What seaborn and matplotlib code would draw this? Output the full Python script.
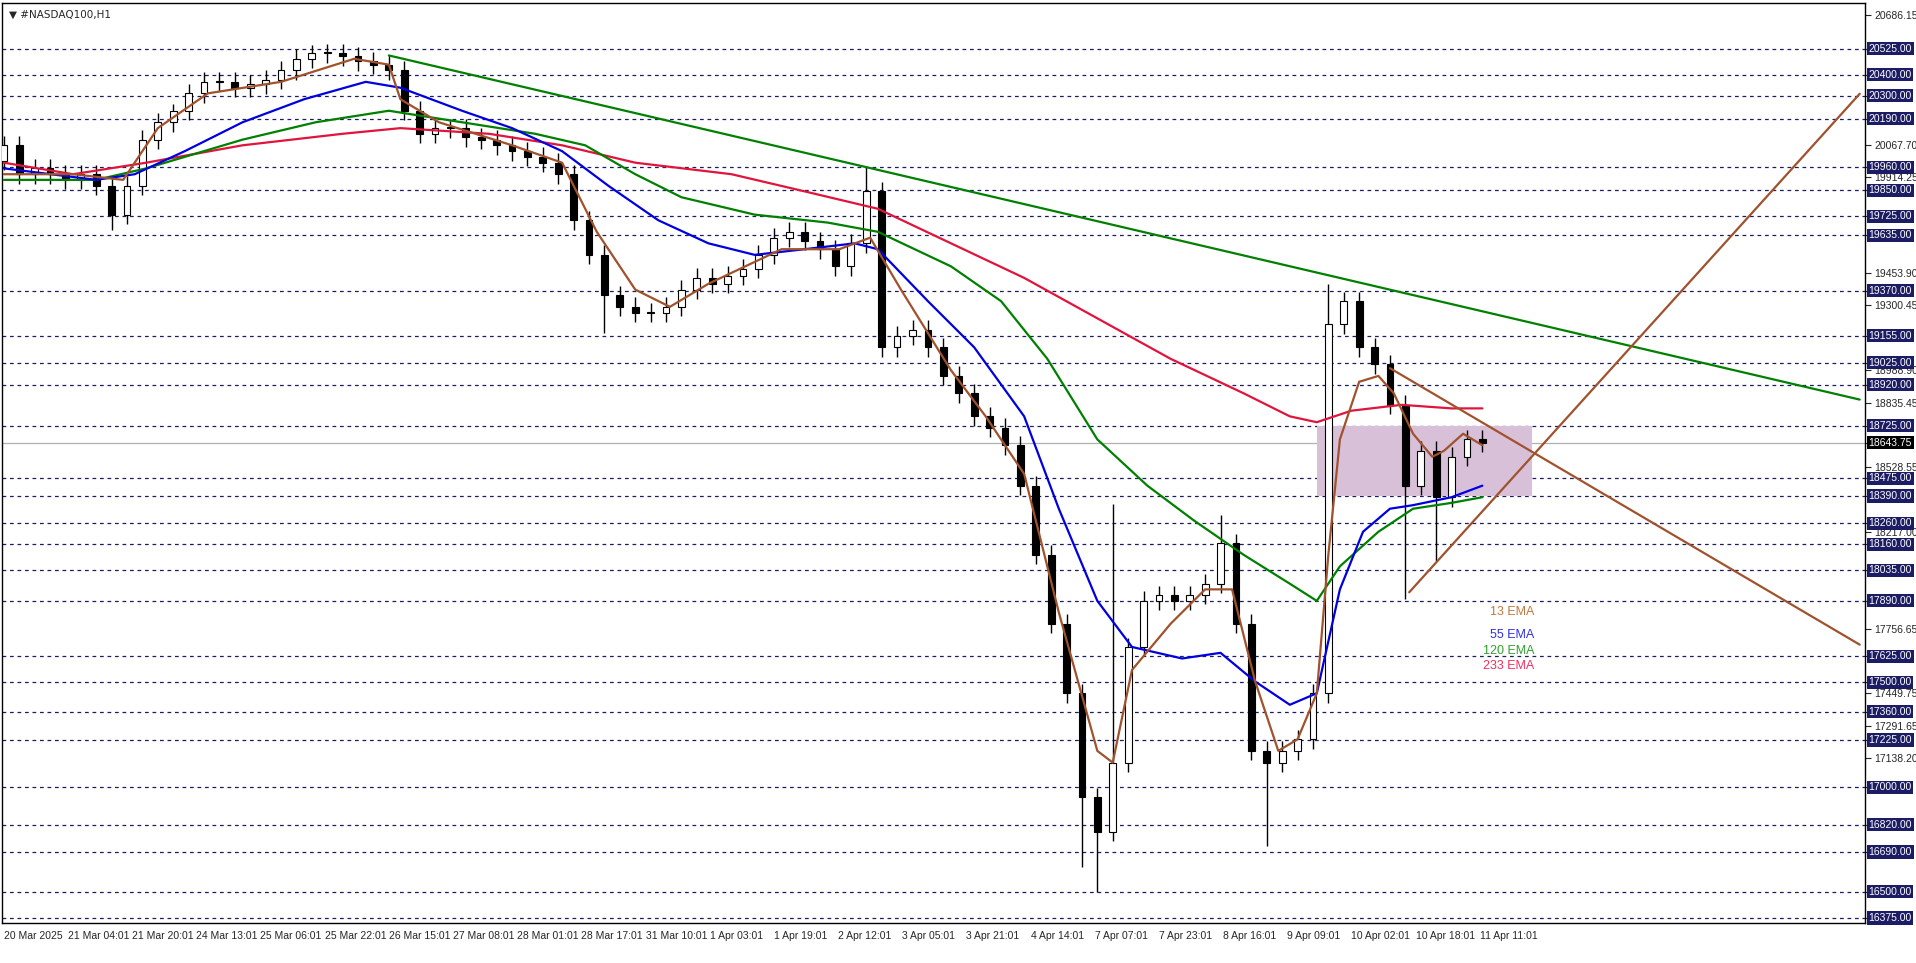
import numpy as np
import pandas as pd
import matplotlib
matplotlib.use("Agg")
import matplotlib.pyplot as plt
import seaborn as sns

sns.set_style("white")
plt.rcParams['font.family'] = ['Liberation Sans', 'DejaVu Sans']

# ---- data ----
closes = [20064, 19926, 19954, 19926, 19899, 19926, 19871, 19733, 19871, 20091,
          20174, 20229, 20312, 20367, 20367, 20339, 20356, 20378, 20422, 20477,
          20504, 20504, 20488, 20466, 20449, 20422, 20229, 20119, 20146, 20146,
          20102, 20091, 20064, 20036, 20009, 19981, 19926, 19706, 19541, 19348,
          19293, 19265, 19265, 19293, 19375, 19431, 19403, 19442, 19475, 19541,
          19623, 19651, 19607, 19568, 19486, 19596, 19844, 19100, 19155, 19183,
          19100, 18963, 18880, 18770, 18715, 18632, 18439, 18109, 17779, 17448,
          16953, 16788, 17117, 17669, 17889, 17917, 17889, 17917, 17971, 18164,
          17779, 17173, 17117, 17173, 17228, 17448, 19210, 19320, 19100, 19018,
          18825, 18439, 18605, 18384, 18577, 18660, 18644]
first_open = 19990
bar_step = 4.08
wick = 45
extreme_highs = {56: 19960, 72: 18350, 86: 19400, 79: 18300, 11: 20260, 20: 20545}
extreme_lows = {7: 19660, 71: 16500, 70: 16620, 82: 16720, 91: 17900, 93: 18080, 69: 17400, 39: 19170}

ema_scale = 1.02
ema13_h = [0, 18, 31, 40, 53, 72, 91, 100, 103, 113, 132, 145, 154, 164, 173, 183, 202, 217, 225, 233, 246, 255, 265, 274, 284, 288, 293, 303, 312, 319, 325, 331, 336, 341, 344, 347, 352, 357, 361, 366, 371, 374, 379, 384]
ema13_p = [19926, 19926, 19899, 20146, 20312, 20367, 20477, 20449, 20284, 20174, 20064, 19981, 19651, 19375, 19293, 19403, 19568, 19568, 19623, 19375, 18990, 18770, 18495, 17834, 17173, 17117, 17559, 17779, 17944, 17944, 17504, 17173, 17228, 17448, 18109, 18660, 18935, 18963, 18880, 18687, 18577, 18605, 18687, 18632]
ema55_h = [0, 24, 34, 47, 62, 78, 94, 103, 119, 132, 145, 157, 170, 183, 195, 208, 221, 227, 240, 252, 265, 274, 284, 293, 306, 316, 325, 334, 341, 347, 353, 360, 366, 376, 384]
ema55_p = [19954, 19899, 19926, 20036, 20174, 20284, 20367, 20339, 20229, 20146, 20036, 19871, 19706, 19596, 19541, 19568, 19596, 19568, 19320, 19100, 18770, 18329, 17889, 17669, 17614, 17641, 17504, 17393, 17448, 17944, 18219, 18329, 18346, 18384, 18439]
ema120_h = [0, 24, 37, 62, 81, 100, 119, 138, 151, 164, 176, 195, 214, 227, 246, 259, 271, 284, 297, 309, 322, 334, 341, 347, 357, 366, 376, 384]
ema120_p = [19899, 19899, 19954, 20091, 20174, 20229, 20174, 20119, 20064, 19926, 19816, 19733, 19695, 19651, 19486, 19320, 19045, 18660, 18439, 18274, 18109, 17971, 17889, 18054, 18219, 18329, 18357, 18384]
ema233_h = [0, 18, 37, 62, 88, 103, 126, 145, 164, 189, 208, 227, 246, 265, 284, 303, 322, 334, 341, 350, 363, 376, 384]
ema233_p = [19981, 19926, 19981, 20064, 20119, 20146, 20119, 20064, 19981, 19926, 19844, 19761, 19596, 19431, 19238, 19045, 18880, 18770, 18742, 18797, 18825, 18808, 18808]

green_tl_h = [100, 482]; green_tl_p = [20493, 18850]
brown_dn_h = [360, 482]; brown_dn_p = [19000, 17680]
brown_up_h = [365, 482]; brown_up_p = [17930, 20310]
box_h = [341, 397]; box_p = [18390, 18725]

levels = [20525, 20400, 20300, 20190, 19960, 19850, 19725, 19635, 19370, 19155,
          19025, 18920, 18725, 18475, 18390, 18260, 18160, 18035, 17890, 17625,
          17500, 17360, 17225, 17000, 16820, 16690, 16500, 16375]
plain_ticks = [20686.15, 20067.70, 19914.25, 19453.90, 19300.45, 18988.90, 18835.45,
               18528.55, 18217.00, 17756.65, 17449.75, 17291.65, 17138.20]
last_price = 18643.75
xtick_labels = ["20 Mar 2025", "21 Mar 04:01", "21 Mar 20:01", "24 Mar 13:01", "25 Mar 06:01",
                "25 Mar 22:01", "26 Mar 15:01", "27 Mar 08:01", "28 Mar 01:01", "28 Mar 17:01",
                "31 Mar 10:01", "1 Apr 03:01", "1 Apr 19:01", "2 Apr 12:01", "3 Apr 05:01",
                "3 Apr 21:01", "4 Apr 14:01", "7 Apr 07:01", "7 Apr 23:01", "8 Apr 16:01",
                "9 Apr 09:01", "10 Apr 02:01", "10 Apr 18:01", "11 Apr 11:01"]

# ---- figure ----
fig = plt.figure(figsize=(19.16, 9.63), dpi=100)
ax = fig.add_axes([0.001, 0.0415, 0.9723, 0.9553])
ax.set_xlim(-0.5, 493)
ax.set_ylim(16351, 20743)

NAVY = "#1c1c64"
for lv in levels:
    ax.axhline(lv, color=NAVY, lw=0.9, ls=(0, (3, 3)), zorder=1)
ax.axhline(last_price, color="#b0b0b0", lw=0.9, zorder=1)

ax.add_patch(plt.Rectangle((box_h[0] * ema_scale, box_p[0]), (box_h[1] - box_h[0]) * ema_scale,
                           box_p[1] - box_p[0], facecolor="#d8c0d8", edgecolor="none", zorder=1.5))

opens = [first_open] + closes[:-1]
xs = np.arange(len(closes)) * bar_step
for i, (o, c) in enumerate(zip(opens, closes)):
    hi = extreme_highs.get(i, max(o, c) + wick)
    lo = extreme_lows.get(i, min(o, c) - wick)
    ax.vlines(xs[i], lo, hi, color="black", lw=1, zorder=3)
    bull = c >= o
    ax.bar(xs[i], max(abs(c - o), 4), bottom=min(o, c), width=1.8,
           facecolor="white" if bull else "black", edgecolor="black", lw=0.8, zorder=4)

for h, p, col in [(ema233_h, ema233_p, "#e0143c"), (ema120_h, ema120_p, "#008000"),
                  (ema55_h, ema55_p, "#0000e0"), (ema13_h, ema13_p, "#a0522d")]:
    df = pd.DataFrame({"h": np.array(h) * ema_scale, "p": p})
    sns.lineplot(data=df, x="h", y="p", ax=ax, color=col, lw=1.6, zorder=5, sort=False)

ax.plot(np.array(green_tl_h) * ema_scale, green_tl_p, color="#008000", lw=1.6, zorder=5)
ax.plot(np.array(brown_dn_h) * ema_scale, brown_dn_p, color="#a0522d", lw=1.6, zorder=5)
ax.plot(np.array(brown_up_h) * ema_scale, brown_up_p, color="#a0522d", lw=1.6, zorder=5)

for txt, col, yy in [("13 EMA", "#c07840", 0.338), ("55 EMA", "#3030e0", 0.313),
                     ("120 EMA", "#30a030", 0.296), ("233 EMA", "#f03060", 0.279)]:
    ax.text(0.8225, yy, txt, transform=ax.transAxes, color=col, fontsize=9, ha="right", va="center")

ax.text(0.004, 0.993, "▼ #NASDAQ100,H1", transform=ax.transAxes, fontsize=7.5, va="top", ha="left",
        family=['DejaVu Sans'])

ax.set_xlabel(""); ax.set_ylabel("")
ax.set_xticks(np.arange(len(xtick_labels)) * 17)
ax.set_xticklabels(xtick_labels, fontsize=7.5, ha="left")
ax.tick_params(axis="x", length=4, pad=2)
ax.yaxis.tick_right()
ax.set_yticks(plain_ticks + levels + [last_price])
ax.set_yticklabels([f"{v:.2f}" for v in plain_ticks] + [""] * (len(levels) + 1), fontsize=7.5)
ax.tick_params(axis="y", length=4, pad=3)
for s in ax.spines.values():
    s.set_color("black"); s.set_linewidth(1)
for lv in levels:
    ax.text(1.002, lv, f"{lv:.2f}", transform=ax.get_yaxis_transform(), fontsize=7.5,
            color="white", va="center", ha="left",
            bbox=dict(boxstyle="square,pad=0.15", fc=NAVY, ec="none"), zorder=10)
ax.text(1.002, last_price, f"{last_price:.2f}", transform=ax.get_yaxis_transform(), fontsize=7.5,
        color="white", va="center", ha="left",
        bbox=dict(boxstyle="square,pad=0.15", fc="black", ec="none"), zorder=11)

fig.savefig("out.png", dpi=100)
